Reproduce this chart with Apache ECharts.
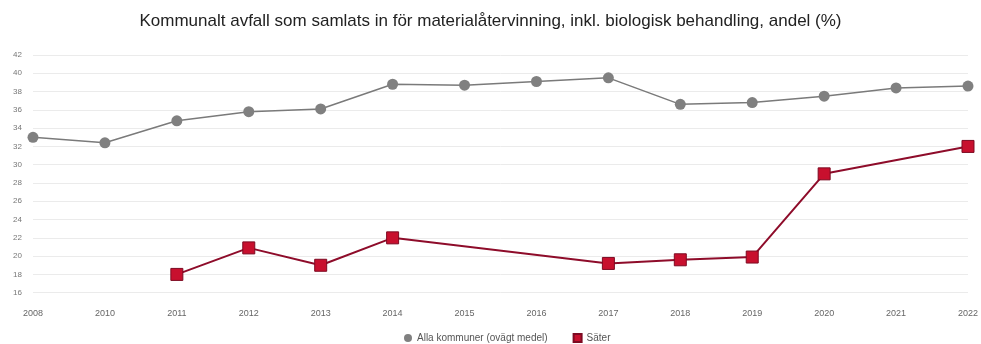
<!DOCTYPE html>
<html>
<head>
<meta charset="utf-8">
<script src="https://cdn.jsdelivr.net/npm/echarts@6/dist/echarts.min.js"></script>
<style>
html,body{margin:0;padding:0;background:#fff;}
#c{width:981px;height:344px;}
</style>
</head>
<body>
<div id="c"></div>
<script>
const titleText = "Kommunalt avfall som samlats in för materialåtervinning, inkl. biologisk behandling, andel (%)";
const years = ["2008","2010","2011","2012","2013","2014","2015","2016","2017","2018","2019","2020","2021","2022"];
const allaName = "Alla kommuner (ovägt medel)";
const allaValues = [33.0, 32.4, 34.8, 35.8, 36.1, 38.8, 38.7, 39.1, 39.5, 36.6, 36.8, 37.5, 38.4, 38.6];
const saterName = "Säter";
const saterValues = [null, null, 18.0, 20.9, 19.0, 22.0, null, null, 19.2, 19.6, 19.9, 29.0, null, 32.0];
const yMin = 16, yMax = 42, yStep = 2;

const chart = echarts.init(document.getElementById('c'), null, {renderer:'canvas'});
chart.setOption({
  animation: false,
  backgroundColor: '#fff',
  textStyle: { fontFamily: 'Liberation Sans, Arial, sans-serif' },
  title: {
    text: titleText,
    left: 'center',
    top: 8,
    textStyle: { fontSize: 17, fontWeight: 'normal', color: '#222', fontFamily: 'Liberation Sans, Arial, sans-serif' }
  },
  legend: {
    top: 328,
    left: 399,
    itemWidth: 8,
    itemHeight: 8,
    itemGap: 25,
    textStyle: { fontSize: 10, color: '#555' },
    data: [
      { name: allaName, icon: 'circle' },
      { name: saterName, icon: 'rect' }
    ]
  },
  grid: { left: 33, right: 11, top: 55, bottom: 51.3, containLabel: false },
  xAxis: {
    type: 'category',
    data: years,
    boundaryGap: false,
    axisLine: { show: false },
    axisTick: { show: false },
    axisLabel: { fontSize: 9, color: '#666', margin: 16 }
  },
  yAxis: {
    type: 'value',
    min: yMin,
    max: yMax,
    interval: yStep,
    axisLine: { show: false },
    axisTick: { show: false },
    axisLabel: { fontSize: 8, color: '#777', margin: 11 },
    splitLine: { lineStyle: { color: '#ebebeb', width: 1 } }
  },
  series: [
    {
      name: allaName,
      type: 'line',
      data: allaValues,
      symbol: 'circle',
      symbolSize: 11,
      itemStyle: { color: '#808080' },
      lineStyle: { color: '#7a7a7a', width: 1.5 }
    },
    {
      name: saterName,
      type: 'line',
      data: saterValues,
      connectNulls: true,
      symbol: 'rect',
      symbolSize: 12,
      itemStyle: { color: '#c8102e', borderColor: '#7d0a22', borderWidth: 1 },
      lineStyle: { color: '#8e0c2a', width: 2 }
    }
  ]
});
</script>
</body>
</html>
